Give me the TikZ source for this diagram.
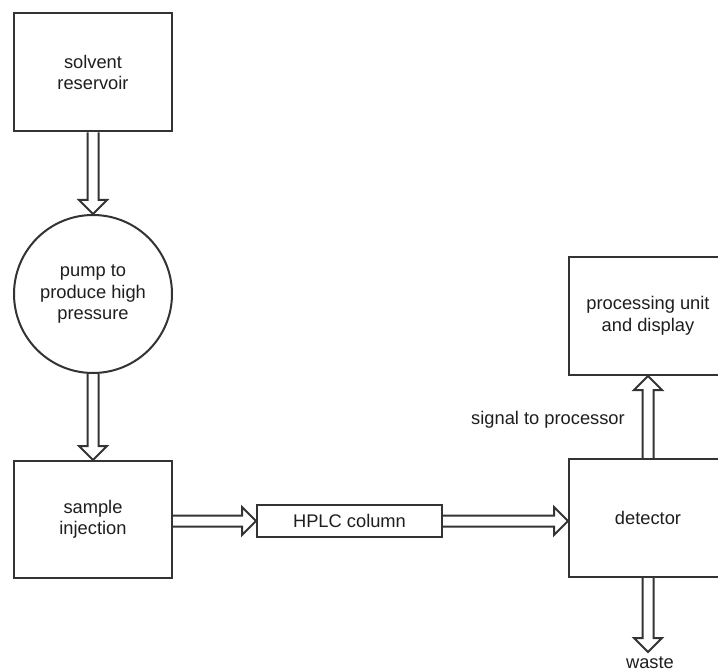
\documentclass[tikz,border=0pt]{standalone}
\usepackage{fontspec}
\setmainfont{Liberation Sans}
\usetikzlibrary{calc}
\definecolor{ink}{HTML}{333333}
\definecolor{textink}{HTML}{1E1E1E}
\newcommand\lbl{\fontsize{18.3}{21.5}\selectfont}
% hollow block arrow from #1 to #2 (shaft half width 5.5, head 14 x 14)
\newcommand\flowarrow[2]{%
  \draw[flowline] let \p1=(#1), \p2=(#2),
      \n1={atan2(\y2-\y1,\x2-\x1)}, \n2={veclen(\x2-\x1,\y2-\y1)} in
    [shift={(\p1)}, rotate=\n1]
    (0,-5.5) -- ({\n2-14},-5.5) -- ({\n2-14},-14) -- (\n2,0)
    -- ({\n2-14},14) -- ({\n2-14},5.5) -- (0,5.5);}
\begin{document}
\begin{tikzpicture}[x=1pt,y=-1pt,
  box/.style={draw=ink, line width=2pt, minimum width=158pt, minimum height=118pt,
    align=center, inner sep=0pt, font=\lbl, text=textink},
  disc/.style={circle, draw=ink, line width=2pt, minimum size=158pt,
    align=center, inner sep=0pt, font=\lbl, text=textink},
  label/.style={font=\lbl, text=textink, inner sep=0pt},
  flowline/.style={draw=ink, line width=2pt, line join=miter}]
\fill[white] (0,0) rectangle (718,671);
\useasboundingbox (0,0) rectangle (718,671);

\node[box] (res) at (93,72.5) {solvent\\reservoir};
\node[disc] (pump) at (93,294) {pump to\\produce high\\pressure};
\node[box, minimum height=117pt] (inj) at (93,519.5) {sample\\injection};
\node[box, minimum width=185pt, minimum height=32pt] (col) at (349.5,521) {HPLC column};
\node[box] (det) at (648,518) {detector};
\node[box] (proc) at (648,316) {processing unit\\and display};
\node[label] (sig) at (548,420) {signal to processor};
\coordinate (drain) at (648,652);
\node[label, anchor=base] (waste) at (650,668) {waste};

\flowarrow{res.south}{pump.north}
\flowarrow{pump.south}{inj.north}
\flowarrow{inj.east |- col.west}{col.west}
\flowarrow{col.east}{det.west |- col.east}
\flowarrow{det.north}{proc.south}
\flowarrow{det.south}{drain}
\end{tikzpicture}
\end{document}
